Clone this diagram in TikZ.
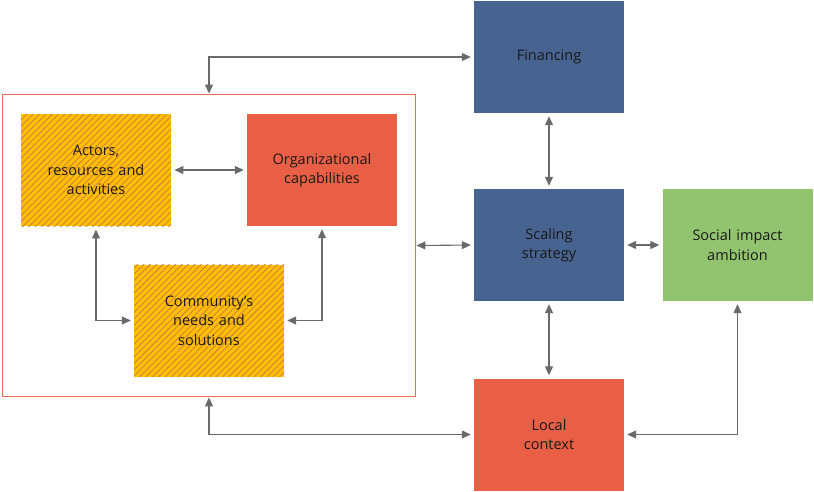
\documentclass[tikz,border=0pt]{standalone}
\usepackage{fontspec}
\setmainfont{Open Sans}
\usetikzlibrary{arrows.meta,patterns.meta}

\definecolor{scaleblue}{RGB}{71,99,143}
\definecolor{redorange}{RGB}{233,95,69}
\definecolor{leafgreen}{RGB}{146,195,110}
\definecolor{hatchyellow}{RGB}{255,192,0}
\definecolor{hatchline}{RGB}{214,128,58}
\definecolor{framered}{RGB}{233,110,80}
\definecolor{linkgray}{RGB}{106,106,106}

\tikzset{
  block/.style={minimum width=150pt, minimum height=112pt, inner sep=0pt,
    align=center, text width=140pt, font=\fontsize{14.5}{19.5}\selectfont, text=black!90},
  hatched/.style={block, preaction={fill=hatchyellow},
    pattern={Lines[angle=45, distance=4.5pt, line width=0.9pt]}, pattern color=hatchline},
  link/.style={draw=linkgray, line width=1.1pt, {Triangle[length=9pt,width=8pt]}-{Triangle[length=9pt,width=8pt]},
    shorten <=3pt, shorten >=3pt}
}

\begin{document}
\begin{tikzpicture}[x=1pt, y=-1pt]

                \useasboundingbox (0,0) rectangle (814,491);

                % outer frame
                \node[draw=framered, line width=1.8pt, minimum width=413pt, minimum height=302pt, inner sep=0pt] (frame) at (209, 245.5) {};

                % blocks
                \node[block, fill=scaleblue] (fin) at (549, 57) {Financing};
                \node[block, fill=scaleblue] (scal) at (549, 245) {Scaling\\strategy};
                \node[block, fill=leafgreen] (soc) at (737.5, 245) {Social impact\\ambition};
                \node[block, fill=redorange] (loc) at (549, 434.5) {Local\\context};

                \node[hatched] (act) at (96, 170) {Actors,\\resources and\\activities};
                \node[block, fill=redorange] (org) at (322, 170) {Organizational\\capabilities};
                \node[hatched] (com) at (209, 320.5) {Community’s\\needs and\\solutions};

                % links
                \draw[link, shorten <=0pt] (frame.north) |- (fin.west);
                \draw[link, shorten <=0pt] (frame.east) -- (scal.west);
                \draw[link, shorten <=0pt] (frame.south) |- (loc.west);
                \draw[link] (fin.south) -- (scal.north);
                \draw[link] (scal.south) -- (loc.north);
                \draw[link] (scal.east) -- (soc.west);
                \draw[link] (soc.south) |- (loc.east);

                \draw[link] (act.east) -- (org.west);
                \draw[link] (act.south) |- (com.west);
                \draw[link] (org.south) |- (com.east);

\end{tikzpicture}
\end{document}
